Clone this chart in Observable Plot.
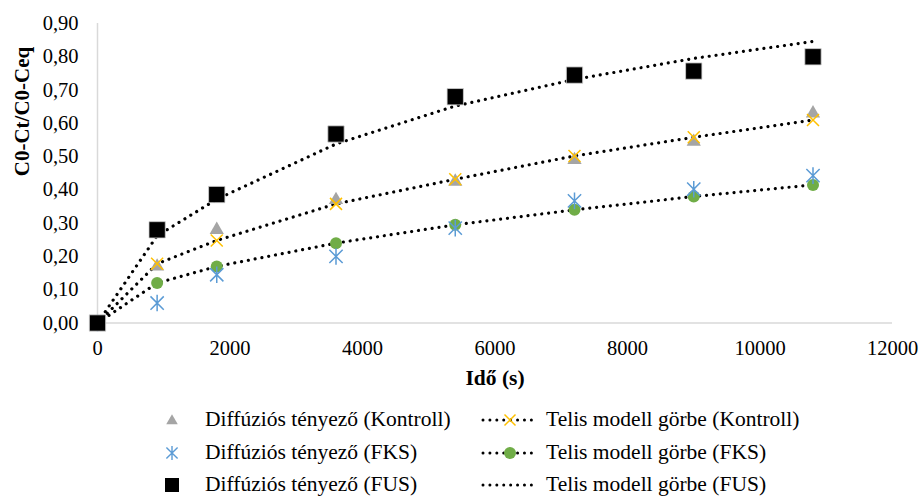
<!DOCTYPE html>
<html>
<head>
<meta charset="utf-8">
<script src="https://cdn.jsdelivr.net/npm/d3@7"></script>
<script src="https://cdn.jsdelivr.net/npm/@observablehq/plot@0.6"></script>
<style>
  html, body { margin: 0; padding: 0; background: #fff; }
  #wrap { position: relative; width: 920px; height: 497px; font-family: 'Liberation Serif', 'Times New Roman', serif; }
  .leg { position: absolute; font-size: 21.5px; color: #000; white-space: nowrap; line-height: 1; font-family: 'Liberation Serif', 'Times New Roman', serif; }
  .legsym { position: absolute; }
  svg text { font-family: 'Liberation Serif', 'Times New Roman', serif; }
</style>
</head>
<body>
<div id="wrap"></div>
<script>
// ---- data ----
const time = [0, 900, 1800, 3600, 5400, 7200, 9000, 10800];
const diffKontroll = [0, 0.17, 0.28, 0.37, 0.425, 0.49, 0.545, 0.63];
const telisKontroll = [0, 0.178, 0.248, 0.358, 0.432, 0.502, 0.558, 0.61];
const diffFKS = [0, 0.06, 0.145, 0.20, 0.285, 0.367, 0.402, 0.443];
const telisFKS = [0, 0.12, 0.17, 0.24, 0.295, 0.34, 0.38, 0.415];
const diffFUS = [0, 0.28, 0.386, 0.568, 0.68, 0.745, 0.757, 0.80];
const telisFUS = [0, 0.262, 0.372, 0.538, 0.652, 0.732, 0.795, 0.846];
const xTicks = [0, 2000, 4000, 6000, 8000, 10000, 12000];
const yTicks = [0, 0.1, 0.2, 0.3, 0.4, 0.5, 0.6, 0.7, 0.8, 0.9];
const legendLeft = ["Diffúziós tényező (Kontroll)", "Diffúziós tényező (FKS)", "Diffúziós tényező (FUS)"];
const legendRight = ["Telis modell görbe (Kontroll)", "Telis modell görbe (FKS)", "Telis modell görbe (FUS)"];
const xLabel = "Idő (s)";
const yLabel = "C0-Ct/C0-Ceq";

const col = {gray: "#a5a5a5", blue: "#5b9bd5", green: "#70ad47", orange: "#ffc000", black: "#000"};
const serif = "'Liberation Serif', 'Times New Roman', serif";

// custom symbols (Excel star and X markers)
const excelStar = {
  draw(ctx, size) {
    const r = Math.sqrt(size / Math.PI), a = r * 0.8;
    ctx.moveTo(0, -r); ctx.lineTo(0, r);
    ctx.moveTo(-a, -a); ctx.lineTo(a, a);
    ctx.moveTo(-a, a); ctx.lineTo(a, -a);
  }
};
const excelX = {
  draw(ctx, size) {
    const r = Math.sqrt(size / Math.PI);
    ctx.moveTo(-r, -r); ctx.lineTo(r, r);
    ctx.moveTo(-r, r); ctx.lineTo(r, -r);
  }
};

const rows = (ys) => time.map((t, i) => ({t, v: ys[i]}));
const dotted = {stroke: "#000", strokeWidth: 3.2, strokeDasharray: "0.01 6.9", strokeLinecap: "round"};

const fmt = (d) => d.toFixed(2).replace(".", ",");

const chart = Plot.plot({
  width: 920,
  height: 395,
  marginTop: 23,
  marginLeft: 97,
  marginRight: 28,
  marginBottom: 72.5,
  style: {fontFamily: serif, fontSize: "20.5px", background: "transparent", overflow: "visible"},
  x: {domain: [0, 12000]},
  y: {domain: [0, 0.9]},
  marks: [
    Plot.ruleX([0], {stroke: "#d9d9d9", strokeWidth: 1.5}),
    Plot.ruleY([0], {stroke: "#d9d9d9", strokeWidth: 1.5}),
    Plot.axisX({ticks: xTicks, tickSize: 0, tickPadding: 17, tickFormat: (d) => String(d), label: null, fill: "#000"}),
    Plot.axisY({ticks: yTicks, tickSize: 0, tickPadding: 19, tickFormat: fmt, label: null, fill: "#000"}),
    Plot.text([xLabel], {frameAnchor: "bottom", dy: 55.5, text: (d) => d, fontWeight: "bold", fontSize: 21.5, lineAnchor: "middle"}),
    Plot.text([yLabel], {frameAnchor: "left", dx: -75, dy: 3, rotate: -90, text: (d) => d, fontWeight: "bold", fontSize: 21}),
    Plot.line(rows(telisKontroll), {x: "t", y: "v", ...dotted}),
    Plot.line(rows(telisFKS), {x: "t", y: "v", ...dotted}),
    Plot.line(rows(telisFUS), {x: "t", y: "v", ...dotted}),
    Plot.dot(rows(diffKontroll), {x: "t", y: "v", symbol: "triangle", r: 5.3, fill: col.gray, stroke: "none"}),
    Plot.dot(rows(telisKontroll), {x: "t", y: "v", symbol: excelX, r: 6, stroke: col.orange, strokeWidth: 1.5, fill: "none"}),
    Plot.dot(rows(telisFKS), {x: "t", y: "v", symbol: "circle", r: 6, fill: col.green, stroke: "none"}),
    Plot.dot(rows(diffFKS), {x: "t", y: "v", symbol: excelStar, r: 8.3, stroke: col.blue, strokeWidth: 1.5, fill: "none"}),
    Plot.dot(rows(diffFUS), {x: "t", y: "v", symbol: "square", r: 9.2, fill: "#000", stroke: "#d0d0d0", strokeWidth: 0.8})
  ]
});

const wrap = document.getElementById("wrap");
chart.style.position = "absolute";
chart.style.left = "0px";
chart.style.top = "0px";
wrap.appendChild(chart);

// ---- legend (below the chart) ----
const rowY = [420, 453, 485];
function symSvg(left, top, w, h, build) {
  const svg = d3.create("svg").attr("width", w).attr("height", h)
    .attr("class", "legsym").style("left", left + "px").style("top", top + "px");
  build(svg);
  wrap.appendChild(svg.node());
}
// left column markers
symSvg(162, rowY[0] - 10, 20, 20, (s) => s.append("path")
  .attr("d", d3.symbol(d3.symbolTriangle, Math.PI * 4.3 * 4.3)()).attr("transform", "translate(10,11)").attr("fill", col.gray));
symSvg(162, rowY[1] - 10, 20, 20, (s) => s.append("path")
  .attr("d", d3.symbol(excelStar, Math.PI * 7 * 7)()).attr("transform", "translate(10,10)").attr("stroke", col.blue).attr("stroke-width", 1.4).attr("fill", "none"));
symSvg(162, rowY[2] - 10, 20, 20, (s) => s.append("rect")
  .attr("x", 3).attr("y", 3).attr("width", 14).attr("height", 14).attr("fill", "#000"));
// right column markers
[0, 1, 2].forEach((i) => {
  symSvg(478, rowY[i] - 10, 62, 20, (s) => {
    s.append("line").attr("x1", 5).attr("x2", 57).attr("y1", 10).attr("y2", 10)
      .attr("stroke", "#000").attr("stroke-width", 3).attr("stroke-dasharray", "0.01 6.9").attr("stroke-linecap", "round");
    if (i === 0) s.append("path").attr("d", d3.symbol(excelX, Math.PI * 5.5 * 5.5)()).attr("transform", "translate(32,10)")
      .attr("stroke", col.orange).attr("stroke-width", 1.5).attr("fill", "none");
    if (i === 1) s.append("circle").attr("cx", 32).attr("cy", 10).attr("r", 6).attr("fill", col.green);
  });
});
legendLeft.forEach((t, i) => {
  const d = document.createElement("div");
  d.className = "leg"; d.textContent = t;
  d.style.left = "205px"; d.style.top = (rowY[i] - 11) + "px";
  wrap.appendChild(d);
});
legendRight.forEach((t, i) => {
  const d = document.createElement("div");
  d.className = "leg"; d.textContent = t;
  d.style.left = "546px"; d.style.top = (rowY[i] - 11) + "px";
  wrap.appendChild(d);
});
</script>
</body>
</html>
